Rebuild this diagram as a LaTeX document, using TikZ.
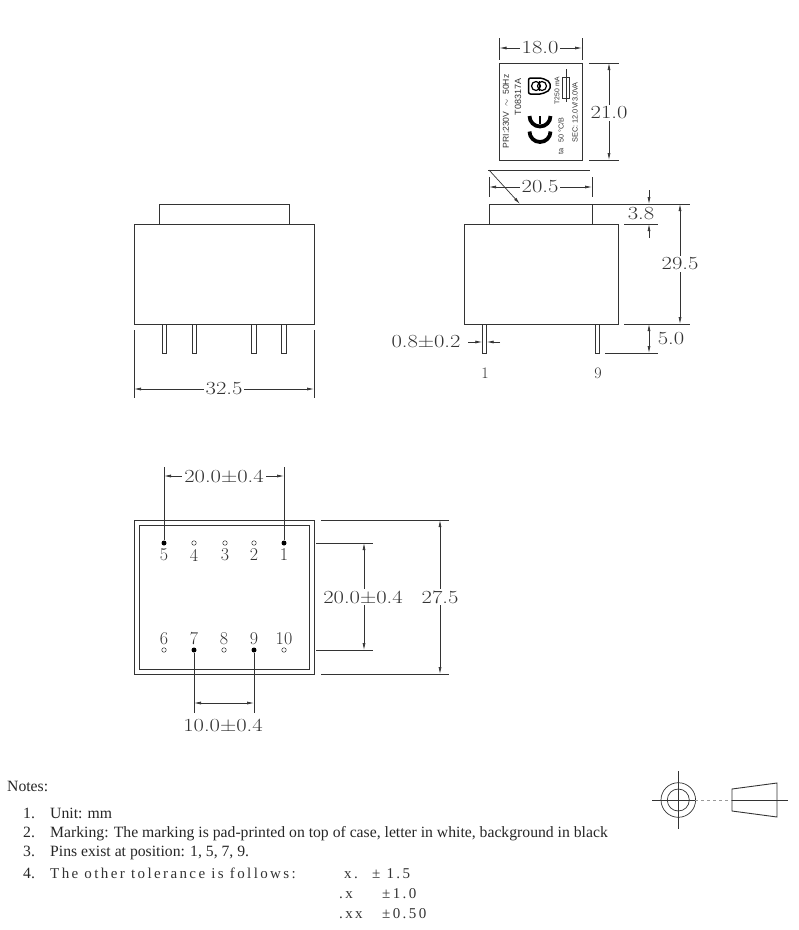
\documentclass[tikz,border=0pt]{standalone}
\usepackage{fontspec}
\setmainfont{Liberation Serif}
\newfontfamily\cadfont[FakeStretch=1.22]{Latin Modern Roman}
\newfontfamily\pinfont{Latin Modern Roman}
\newfontfamily\panelfont{Liberation Sans}
\newfontfamily\spacedfont[LetterSpace=16]{Liberation Serif}
\usetikzlibrary{arrows.meta}
\definecolor{inkgray}{HTML}{333333}
\tikzstyle{outline}=[draw=inkgray,line width=0.9pt]
\tikzstyle{thinline}=[draw=inkgray,line width=0.7pt]
\tikzstyle{dimline} = [draw=inkgray,line width=0.7pt,{Latex[length=7pt,width=3pt]}-{Latex[length=7pt,width=3pt]}]
\tikzstyle{leader} = [draw=inkgray,line width=0.7pt,-{Latex[length=7pt,width=3pt]}]
\tikzstyle{dimtext} = [font=\cadfont\fontsize{18.5}{20}\selectfont,text=inkgray,fill=white,inner sep=2pt]
\tikzstyle{pinnum} = [font=\pinfont\fontsize{18}{20}\selectfont,text=inkgray,inner sep=0pt]
\tikzstyle{paneltext} = [text=inkgray,rotate=90,inner sep=0pt]
\tikzstyle{notetext} = [font=\fontsize{15.7}{17}\selectfont,text=black!85,anchor=base west,inner sep=0pt]
\tikzstyle{spacedtext} = [font=\spacedfont\fontsize{15}{17}\selectfont,text=black!80,anchor=base west,inner sep=0pt]
\tikzset{pinfull/.style={circle,fill=black,minimum size=5pt,inner sep=0pt}}
\tikzset{pinempty/.style={circle,draw=inkgray,line width=0.5pt,fill=white,minimum size=4.5pt,inner sep=0pt}}
\begin{document}
\begin{tikzpicture}[x=1pt,y=-1pt]

  \useasboundingbox (0,0) rectangle (799,930);

  % marking panel
  \path[outline] (499.5,63) rectangle (582,160);
  \foreach \x/\y/\name/\size/\label in {506/111.5/rated/8.6/{PRI:230V \ $\sim$ \ 50Hz}, 518/97/type/9/T08317A, 557/90.5/fusetext/6.8/T250 mA, 561/130/temp/7.2/{50\,°C/B}, 561/151/ambient/7.4/ta, 575/112.5/sec/7.4/{SEC: 12.0V/3.0VA}}
     \node[paneltext,font=\panelfont\fontsize{\size}{9}\selectfont] (\name) at (\x,\y) {\label};
  % safety mark
  \draw[black,line width=1.5pt,rounded corners=2pt] (528.5,78) -- (528.5,94) -- (542,94) -- (550,90) -- (550,82) -- (542,78) -- cycle;
  \draw[black,line width=1.2pt] (536,86) circle[radius=4.5] (542,86) circle[radius=4.5];
  \draw[black,line width=1pt] (539,81) -- (539,91);
  % CE mark
  \draw[black,line width=3.8pt] (550.5,131.5) arc[start angle=0,end angle=180,radius=10.5];
  \draw[black,line width=3.8pt] (550.5,116) arc[start angle=0,end angle=180,radius=10.5];
  \draw[black,line width=2.6pt] (540,116) -- (540,124);
  % fuse
  \path[outline] (562.5,77) rectangle (569,98);
  \draw[inkgray,line width=1pt] (566,69) -- (566,102);

  % side view
  \path[outline] (489,204) rectangle (592,224);
  \path[outline] (464,224) rectangle (618,324);
  \path[outline] (482.3,324) rectangle (486.7,353);
  \path[outline] (595,324) rectangle (599,353);

  % front view
  \path[outline] (159,204) rectangle (289,224);
  \path[outline] (134,224) rectangle (314,324);
  \foreach \x in {162.3,192,251.7,281.7}
     \path[outline] (\x,324) rectangle (\x+4.4,353);

  % bottom view
  \path[outline] (134,520) rectangle (314,674);
  \path[outline] (139,525) rectangle (309,669);
  \foreach \x/\y/\name/\kind in {284/543/P1/pinfull, 254/543/P2/pinempty, 225/543/P3/pinempty, 194/543/P4/pinempty, 164/543/P5/pinfull, 164/650/P6/pinempty, 194/650/P7/pinfull, 224/650/P8/pinempty, 254/650/P9/pinfull, 284/650/P10/pinempty}
     \node[\kind] (\name) at (\x,\y) {};
  \foreach \x/\y/\name/\label in {284/555/N1/1, 254/555/N2/2, 225/555/N3/3, 194/555/N4/4, 164/555/N5/5, 164/639/N6/6, 194/639/N7/7, 224/639/N8/8, 254/639/N9/9, 284/639/N10/10}
     \node[pinnum] (\name) at (\x,\y) {\label};

  % extension lines
  \foreach \a/\b/\c/\d in {499.5/38/499.5/60, 582/38/582/60, 589/63/619/63, 589/160/619/160, 488/170/590/170, 489/177/489/197, 592/177/592/197, 592/204/690/204, 624/224/658/224, 624/324/690/324, 605/353/658/353, 134/330/134/398, 314/330/314/398, 164/467/164/540, 284/467/284/540, 316/543/373/543, 316/650/373/650, 321/520/449/520, 321/674/449/674, 194/653/194/713, 254/653/254/713}
     \path[thinline] (\a,\b) -- (\c,\d);

  % dimensions
  \path[dimline] (499.5,48) -- (582,48);
  \path[dimline] (609,63) -- (609,160);
  \path[dimline] (489,187) -- (592,187);
  \path[dimline] (680,204) -- (680,324);
  \path[dimline] (649,324) -- (649,353);
  \path[dimline] (134,389) -- (314,389);
  \path[dimline] (164,476) -- (284,476);
  \path[dimline] (364,543) -- (364,650);
  \path[dimline] (440,520) -- (440,674);
  \path[dimline] (194,703) -- (254,703);
  \path[leader] (649,190) -- (649,204);
  \path[leader] (649,238) -- (649,224);
  \path[leader] (468,342) -- (482.3,342);
  \path[leader] (500,342) -- (486.7,342);
  \path[leader] (489,170) -- (520,204);

  \foreach \x/\y/\name/\label in {540/48/D18/18.0, 609/113/D21/21.0, 540/187/D205/20.5, 641/214/D38/3.8, 680/264/D295/29.5, 671/339/D5/5.0, 426/342/D08/0.8±0.2, 224/389/D325/32.5, 224/476/D20a/20.0±0.4, 363/597/D20b/20.0±0.4, 440/597/D275/27.5, 223/725/D10/10.0±0.4}
     \node[dimtext] (\name) at (\x,\y) {\label};

  \node[pinnum,font=\pinfont\fontsize{16}{18}\selectfont] (pin1) at (485,373) {1};
  \node[pinnum,font=\pinfont\fontsize{16}{18}\selectfont] (pin9) at (598,373) {9};

  % pin detail
  \draw[inkgray,line width=0.7pt] (678.3,800) circle[radius=17.3] (678.3,800) circle[radius=11];
  \path[thinline] (678.3,771) -- (678.3,829);
  \path[thinline] (652,800) -- (695,800);
  \path[thinline,dashed,draw=inkgray!50] (695,800) -- (732,800);
  \path[thinline] (732,800) -- (788,800);
  \path[outline] (732,789) -- (777,783) -- (777,817) -- (732,811) -- cycle;

  % notes
  \node[notetext] (notes) at (7,791) {Notes:};
  \foreach \y/\name/\label in {818/L1/{Unit: mm}, 837/L2/{Marking: The marking is pad-printed on top of case, letter in white, background in black}, 856/L3/{Pins exist at position: 1, 5, 7, 9.}}
     \node[notetext] (\name) at (50,\y) {\label};
  \foreach \y/\name/\num in {818/M1/1., 837/M2/2., 856/M3/3., 878/M4/4.}
     \node[notetext] (\name) at (23,\y) {\num};
  \foreach \x/\y/\name/\label in {50/878/L4/The other tolerance is follows:, 344/878/tolA/x., 372/878/tolB/± 1.5, 339/898/tolC/.x, 382/898/tolD/±1.0, 339/918/tolE/.xx, 382/918/tolF/±0.50}
     \node[spacedtext] (\name) at (\x,\y) {\label};

\end{tikzpicture}
\end{document}
